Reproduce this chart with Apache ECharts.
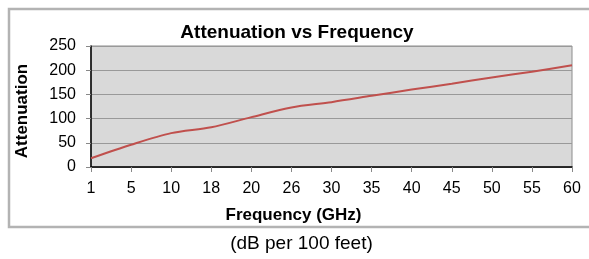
<!DOCTYPE html>
<html>
<head>
<meta charset="utf-8">
<script src="https://cdn.jsdelivr.net/npm/echarts@6/dist/echarts.min.js"></script>
<style>
html,body{margin:0;padding:0;background:#fff;}
#c{width:589px;height:259px;}
</style>
</head>
<body>
<div id="c"></div>
<script>
var categories = ['1','5','10','18','20','26','30','35','40','45','50','55','60'];
var attenuation = [18, 46, 70, 82, 103, 123, 134, 147, 160, 172, 185, 197, 210];
var yTicks = {min: 0, max: 250, interval: 50};
var titleText = 'Attenuation vs Frequency';
var xName = 'Frequency (GHz)';
var yName = 'Attenuation';
var caption = '(dB per 100 feet)';

var F = 'Liberation Sans, Arial, sans-serif';
var chart = echarts.init(document.getElementById('c'));
chart.setOption({
  animation: false,
  backgroundColor: '#ffffff',
  grid: {left: 91, right: 17, top: 46, bottom: 92, show: true,
         backgroundColor: '#d9d9d9', borderColor: '#8c8c8c', borderWidth: 1},
  xAxis: {
    type: 'category', data: categories, boundaryGap: false,
    axisLine: {lineStyle: {color: '#000', width: 1.5}},
    axisTick: {show: true, length: 5, alignWithLabel: true, lineStyle: {color: '#888'}},
    axisLabel: {color: '#000', fontSize: 16, fontFamily: F, margin: 14},
    splitLine: {show: false}
  },
  yAxis: {
    type: 'value', min: yTicks.min, max: yTicks.max, interval: yTicks.interval,
    axisLine: {show: true, lineStyle: {color: '#000', width: 1.5}},
    axisTick: {show: true, length: 5, lineStyle: {color: '#888'}},
    axisLabel: {color: '#000', fontSize: 16, fontFamily: F, margin: 15},
    splitLine: {show: true, lineStyle: {color: '#999', width: 1}}
  },
  series: [{
    type: 'line', data: attenuation, smooth: 0.3, showSymbol: false,
    lineStyle: {color: '#c0504d', width: 2}
  }],
  graphic: [
    {type: 'rect', shape: {x: 9, y: 9, width: 620, height: 218},
     style: {fill: 'none', stroke: '#b3b3b3', lineWidth: 2.5}, z: -1},
    {type: 'text', x: 297, y: 33, style: {text: titleText, fontSize: 19, fontWeight: 'bold',
      fontFamily: F, fill: '#000', textAlign: 'center', textVerticalAlign: 'middle'}},
    {type: 'text', x: 293.5, y: 215, style: {text: xName, fontSize: 17, fontWeight: 'bold',
      fontFamily: F, fill: '#000', textAlign: 'center', textVerticalAlign: 'middle'}},
    {type: 'text', x: 22, y: 111, rotation: Math.PI / 2, style: {text: yName, fontSize: 17, fontWeight: 'bold',
      fontFamily: F, fill: '#000', textAlign: 'center', textVerticalAlign: 'middle'}},
    {type: 'text', x: 301.5, y: 244, style: {text: caption, fontSize: 19,
      fontFamily: F, fill: '#000', textAlign: 'center', textVerticalAlign: 'middle'}}
  ]
});
</script>
</body>
</html>
